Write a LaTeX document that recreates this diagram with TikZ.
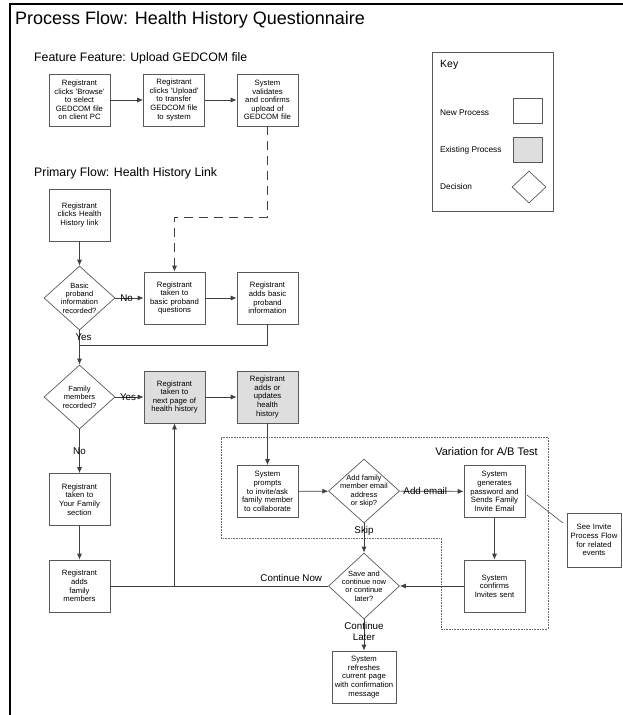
\documentclass[tikz,border=0pt]{standalone}
\usepackage{fontspec}
\setmainfont{Liberation Sans}
\usetikzlibrary{shapes.geometric,arrows.meta}

\begin{document}
\begin{tikzpicture}[x=1pt,y=-1pt,
    box/.style={draw=black!65,line width=0.7pt,minimum width=61pt,
        minimum height=52pt,inner sep=0pt,text width=61pt,align=center,
        font=\fontsize{7.7}{8.6}\selectfont},
    oldbox/.style={box,fill=black!13},
    dec/.style={diamond,draw=black!65,line width=0.7pt,minimum width=71pt,
        minimum height=64pt,inner sep=-10pt,align=center,
        font=\fontsize{7.5}{8.4}\selectfont},
    lbl/.style={font=\fontsize{9.8}{11}\selectfont,inner sep=0pt,align=center},
    arr/.style={draw=black!75,line width=0.7pt,-{Latex[length=6pt,width=5pt]}},
    ln/.style={draw=black!75,line width=0.7pt}]
\useasboundingbox (0,0) rectangle (623,715);
\draw [line width=1.2pt] (10,715) -- (10,4) -- (623,4);

% headings
\node (title) [anchor=west,inner sep=0pt,font=\fontsize{18}{21}\selectfont]
    at (15,20) {Process Flow: Health History Questionnaire};
\node (head1) [anchor=west,inner sep=0pt,font=\fontsize{12.3}{14}\selectfont]
    at (34,58) {Feature Feature: Upload GEDCOM file};
\node (head2) [anchor=west,inner sep=0pt,font=\fontsize{12.3}{14}\selectfont]
    at (34,173) {Primary Flow: Health History Link};

% key
\draw [draw=black!65,line width=0.7pt] (432,52) rectangle (553,211);
\node (key) [anchor=west,inner sep=0pt,font=\fontsize{10.5}{12}\selectfont]
    at (440,65) {Key};
\node (knew) [anchor=west,inner sep=0pt,font=\fontsize{8.3}{9}\selectfont]
    at (440,113) {New Process};
\node (kold) [anchor=west,inner sep=0pt,font=\fontsize{8.3}{9}\selectfont]
    at (440,150) {Existing Process};
\node (kdec) [anchor=west,inner sep=0pt,font=\fontsize{8.3}{9}\selectfont]
    at (440,187) {Decision};
\node (k1) [draw=black!65,line width=0.7pt,minimum width=29pt,
    minimum height=25pt,inner sep=0pt] at (527.5,110.5) {};
\node (k2) [draw=black!65,fill=black!13,line width=0.7pt,minimum width=29pt,
    minimum height=25pt,inner sep=0pt] at (527.5,149.5) {};
\node (k3) [diamond,draw=black!65,line width=0.7pt,minimum width=34pt,
    minimum height=32pt,inner sep=0pt] at (529,187) {};

% upload GEDCOM
\coordinate (n1) at (79.5,100);
\coordinate (n2) at (174,100);
\coordinate (n3) at (267.5,100);
\node (browse) [box] at (n1) {Registrant\\clicks \textquotesingle Browse\textquotesingle\\to select\\GEDCOM file\\on client PC};
\node (upload) [box] at (n2) {Registrant\\clicks \textquotesingle Upload\textquotesingle\\to transfer\\GEDCOM file\\to system};
\node (valid) [box] at (n3) {System\\validates\\and confirms\\upload of\\GEDCOM file};
\draw [arr] (browse) -- (upload);
\draw [arr] (upload) -- (valid);

% primary flow
\coordinate (n4) at (79.5,215);
\coordinate (n5) at (79.5,298);
\coordinate (n6) at (174.5,298);
\coordinate (n7) at (267.5,298);
\coordinate (n8) at (79.5,397);
\coordinate (n9) at (174.5,397);
\coordinate (n10) at (267.5,397);
\coordinate (n11) at (79.5,499.5);
\coordinate (n12) at (79.5,586);
\node (hhlink) [box] at (n4) {Registrant\\clicks Health\\History link};
\node (basicq) [dec] at (n5) {Basic\\proband\\information\\recorded?};
\node (toquest) [box] at (n6) {Registrant\\taken to\\basic proband\\questions};
\node (addbasic) [box] at (n7) {Registrant\\adds basic\\proband\\information};
\node (famq) [dec] at (n8) {Family\\members\\recorded?};
\node (nextpg) [oldbox] at (n9) {Registrant\\taken to\\next page of\\health history};
\node (updhist) [oldbox] at (n10) {Registrant\\adds or\\updates\\health\\history};
\node (yourfam) [box] at (n11) {Registrant\\taken to\\Your Family\\section};
\node (addfam) [box] at (n12) {Registrant\\adds\\family\\members};

\coordinate (j1) at (79.5,345);
\coordinate (j2) at (174.5,586);
\coordinate (j3) at (267.5,217);
\draw [arr,dash pattern=on 9pt off 6pt] (valid) -- (j3) -| (toquest);
\draw [arr] (hhlink) -- (basicq);
\draw [arr] (basicq) -- node [lbl,pos=0.4] {No} (toquest);
\draw [arr] (toquest) -- (addbasic);
\draw [arr] (basicq) -- node [lbl,pos=0.2,xshift=4pt] {Yes} (famq);
\draw [ln] (addbasic) |- (j1);
\draw [arr] (famq) -- node [lbl,pos=0.45] {Yes} (nextpg);
\draw [arr] (nextpg) -- (updhist);
\draw [arr] (famq) -- node [lbl,pos=0.5] {No} (yourfam);
\draw [arr] (yourfam) -- (addfam);
\draw [ln] (addfam) -- (j2);

% A/B test variation
\draw [densely dotted,draw=black!60,line width=0.6pt] (221,437) -- (548,437)
    -- (548,629) -- (441,629) -- (441,538) -- (221,538) -- cycle;
\node (abtest) [anchor=east,inner sep=0pt,font=\fontsize{11}{13}\selectfont]
    at (538,452) {Variation for A/B Test};
\coordinate (n13) at (267.5,491.5);
\coordinate (n14) at (364,491);
\coordinate (n15) at (494.5,491.5);
\coordinate (n16) at (494.5,586);
\coordinate (n17) at (364,586);
\coordinate (n18) at (364,677);
\coordinate (n19) at (594,540);
\node (prompt) [box] at (n13) {System\\prompts\\to invite/ask\\family member\\to collaborate};
\node (emailq) [dec] at (n14) {Add family\\member email\\address\\or skip?};
\node (gen) [box] at (n15) {System\\generates\\password and\\Sends Family\\Invite Email};
\node (confirm) [box] at (n16) {System\\confirms\\Invites sent};
\node (saveq) [dec,minimum height=66pt] at (n17) {Save and\\continue now\\or continue\\later?};
\node (refresh) [box,minimum width=64pt,text width=64pt] at (n18) {System\\refreshes\\current page\\with confirmation\\message};
\node (seeinv) [box,minimum width=54pt,minimum height=54pt,text width=54pt] at (n19) {See Invite\\Process Flow\\for related\\events};

\draw [arr] (updhist) -- (prompt);
\draw [arr] (prompt) -- (emailq);
\draw [arr] (emailq) -- node [lbl,pos=0.4] {Add email} (gen);
\draw [arr] (gen) -- (confirm);
\draw [arr] (confirm) -- (saveq);
\draw [arr] (emailq) -- node [lbl,pos=0.25] {Skip} (saveq);
\draw [arr] (saveq) -- node [lbl,pos=0.4] {Continue\\Later} (refresh);
\draw [arr] (saveq) -| node [lbl,pos=0.12,yshift=8pt] {Continue Now} (nextpg);
\coordinate (n20) at (527,495);
\coordinate (n21) at (563,523);
\draw [draw=black!70,line width=0.6pt] (n20) -- (n21);
\end{tikzpicture}
\end{document}
